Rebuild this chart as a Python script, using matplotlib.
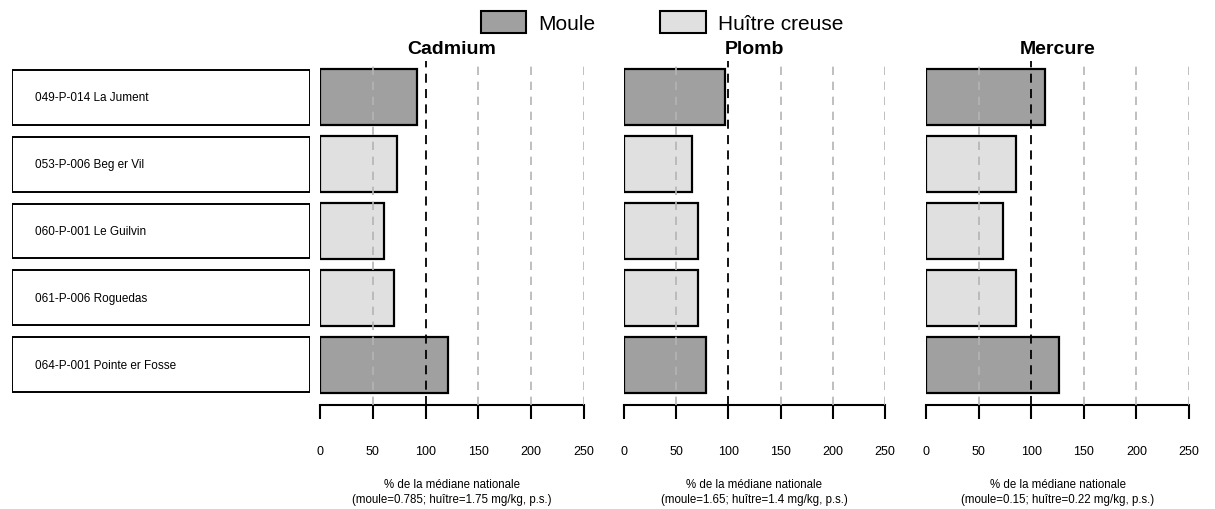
import matplotlib
matplotlib.use("Agg")
import matplotlib.pyplot as plt
from matplotlib.patches import Patch, Rectangle

stations = ["049-P-014 La Jument", "053-P-006 Beg er Vil",
            "060-P-001 Le Guilvin", "061-P-006 Roguedas",
            "064-P-001 Pointe er Fosse"]
especes = ["Moule", "Huître creuse", "Huître creuse", "Huître creuse", "Moule"]

# % de la médiane nationale, par station
cadmium = [92, 73, 60.5, 70, 121]
plomb = [97, 65, 71, 71, 79]
mercure = [113, 86, 73, 86, 126]

metaux = ["Cadmium", "Plomb", "Mercure"]
medianes = ["(moule=0.785; huître=1.75 mg/kg, p.s.)",
            "(moule=1.65; huître=1.4 mg/kg, p.s.)",
            "(moule=0.15; huître=0.22 mg/kg, p.s.)"]
graduations = [0, 50, 100, 150, 200, 250]

couleurs = {"Moule": "#a0a0a0", "Huître creuse": "#e0e0e0"}

plt.rcParams['font.family'] = ['Liberation Sans', 'DejaVu Sans']

W, H = 1215, 510
fig = plt.figure(figsize=(W / 100, H / 100), dpi=100)


def cadre(x0, x1, haut=62, bas=406):
    return [x0 / W, 1 - bas / H, (x1 - x0) / W, (bas - haut) / H]


lignes = list(range(len(stations)))
ylim = (4.6, -0.54)

# colonne des noms de stations
ax_noms = fig.add_axes(cadre(12, 310))
ax_noms.set_xlim(0, 298)
ax_noms.set_ylim(*ylim)
ax_noms.axis("off")
for i, nom in zip(lignes, stations):
    ax_noms.add_patch(Rectangle((0, i - 0.41), 298, 0.82, facecolor="white",
                                edgecolor="black", linewidth=1.4))
    ax_noms.text(23, i, nom, va="center", ha="left", fontsize=8.5)

positions = [(320, 584), (624, 885), (926, 1189)]
valeurs = [cadmium, plomb, mercure]

for (x0, x1), metal, vals, med in zip(positions, metaux, valeurs, medianes):
    ax = fig.add_axes(cadre(x0, x1))
    ax.barh(lignes, vals, height=0.84,
            color=[couleurs[e] for e in especes],
            edgecolor="black", linewidth=1.6, zorder=2)
    for g in [50, 150, 200, 250]:
        ax.axvline(g, color="#b4b4b4", linestyle=(0, (5, 4)),
                   linewidth=1.2, zorder=3)
    ax.axvline(100, color="black", linestyle=(0, (5, 3.5)),
               linewidth=1.3, zorder=3)
    ax.set_xlim(0, 250)
    ax.set_ylim(*ylim)
    ax.set_yticks([])
    ax.set_xticks(graduations)
    ax.tick_params(axis="x", direction="out", length=10, width=1.5,
                   pad=19, labelsize=9)
    for s in ["top", "left", "right"]:
        ax.spines[s].set_visible(False)
    ax.spines["bottom"].set_linewidth(1.5)
    ax.set_xlabel("% de la médiane nationale\n" + med, fontsize=8.3,
                  labelpad=15, linespacing=1.3)
    ax.set_title(metal, fontweight="bold", fontsize=14, pad=6)

poignees = [Patch(facecolor=couleurs[k], edgecolor="black", linewidth=1.5)
            for k in couleurs]
fig.legend(poignees, list(couleurs), loc="center",
           bbox_to_anchor=(662 / W, 1 - 23 / H), ncol=2, frameon=False,
           fontsize=15, handlelength=2.2, handleheight=1.25,
           handletextpad=0.58, columnspacing=3.1, borderpad=0,
           borderaxespad=0)

fig.savefig("out.png", dpi=100)
